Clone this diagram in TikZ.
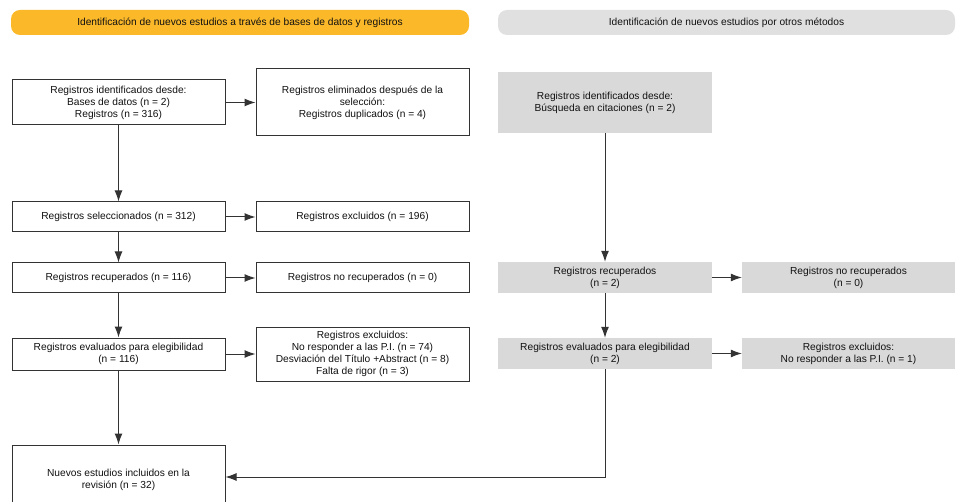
\documentclass[tikz,border=0pt]{standalone}
\usepackage{fontspec}
\setmainfont{Liberation Sans}
\usetikzlibrary{arrows.meta}
\definecolor{bannerorange}{HTML}{FBB829}
\definecolor{bannergray}{HTML}{E0E0E0}
\definecolor{boxgray}{HTML}{D9D9D9}
\definecolor{linecol}{HTML}{333333}
\definecolor{textcol}{HTML}{111111}
\tikzset{
  basebox/.style={rectangle, inner sep=0pt, align=center, text=textcol,
    font=\fontsize{10.2}{12}\selectfont, minimum width=213pt},
  whitebox/.style={basebox, draw=linecol, line width=1pt, fill=white},
  graybox/.style={basebox, fill=boxgray},
  banner/.style={rectangle, rounded corners=9pt, inner sep=0pt, minimum width=458pt,
    minimum height=25pt, text=textcol, font=\fontsize{10.2}{12}\selectfont},
  conn/.style={draw=linecol, line width=1pt, -{Latex[length=11pt,width=8pt]}},
}
\begin{document}
\begin{tikzpicture}[x=1pt,y=-1pt]
\useasboundingbox (0,0) rectangle (960,502);
% banners
\node[banner, fill=bannerorange] (b1) at (240,22.5) {Identificación de nuevos estudios a través de bases de datos y registros};
\node[banner, fill=bannergray, minimum width=457pt] (b2) at (726.5,22.5) {Identificación de nuevos estudios por otros métodos};
% left column
\node[whitebox, minimum height=45pt] (A) at (118.5,102.5) {Registros identificados desde:\\Bases de datos (n = 2)\\Registros (n = 316)};
\node[whitebox, minimum height=67pt] (B) at (362.5,102.5) {Registros eliminados después de la\\selección:\\Registros duplicados (n = 4)};
\node[whitebox, minimum height=30pt] (C) at (118.5,217) {Registros seleccionados (n = 312)};
\node[whitebox, minimum height=30pt] (D) at (362.5,217) {Registros excluidos (n = 196)};
\node[whitebox, minimum height=30pt] (E) at (118.5,278) {Registros recuperados (n = 116)};
\node[whitebox, minimum height=30pt] (F) at (362.5,278) {Registros no recuperados (n = 0)};
\node[whitebox, minimum height=32pt] (G) at (118.5,354) {Registros evaluados para elegibilidad\\(n = 116)};
\node[whitebox, minimum height=54pt] (H) at (362.5,354) {Registros excluidos:\\No responder a las P.I. (n = 74)\\Desviación del Título +Abstract (n = 8)\\Falta de rigor (n = 3)};
\node[whitebox, minimum height=70pt] (I) at (118.5,480) {Nuevos estudios incluidos en la\\revisión (n = 32)};
% right column
\node[graybox, minimum width=214pt, minimum height=61pt] (J) at (605,102.5) {Registros identificados desde:\\Búsqueda en citaciones (n = 2)};
\node[graybox, minimum width=214pt, minimum height=31pt] (K) at (605,277.5) {Registros recuperados\\(n = 2)};
\node[graybox, minimum width=213pt, minimum height=31pt] (L) at (848.5,277.5) {Registros no recuperados\\(n = 0)};
\node[graybox, minimum width=214pt, minimum height=31pt] (M) at (605,353.5) {Registros evaluados para elegibilidad\\(n = 2)};
\node[graybox, minimum width=213pt, minimum height=31pt] (N) at (848.5,353.5) {Registros excluidos:\\No responder a las P.I. (n = 1)};
% connectors
\draw[conn] (A) -- (C);
\draw[conn] (A) -- (B);
\draw[conn] (C) -- (D);
\draw[conn] (C) -- (E);
\draw[conn] (E) -- (F);
\draw[conn] (E) -- (G);
\draw[conn] (G) -- (H);
\draw[conn] (G) -- (I);
\draw[conn] (J) -- (K);
\draw[conn] (K) -- (L);
\draw[conn] (K) -- (M);
\draw[conn] (M) -- (N);
\coordinate (corner) at (605,477);
\draw[conn] (M.south) -- (corner) -- (corner -| I.east);
\end{tikzpicture}
\end{document}
